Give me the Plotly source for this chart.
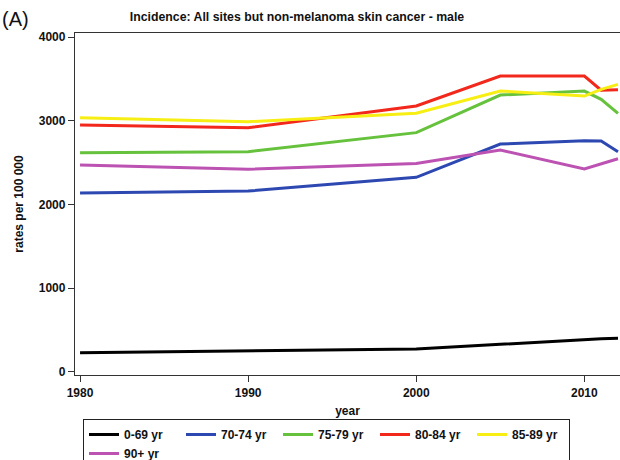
import plotly.graph_objects as go

years = [1980, 1990, 2000, 2005, 2010, 2011, 2012]
series_names = ["0-69 yr", "70-74 yr", "75-79 yr", "80-84 yr", "85-89 yr", "90+ yr"]
rates_0_69 = [231, 254, 275, 330, 390, 398, 402]
rates_70_74 = [2137, 2161, 2324, 2722, 2762, 2758, 2631]
rates_75_79 = [2619, 2631, 2858, 3307, 3355, 3256, 3089]
rates_80_84 = [2949, 2917, 3176, 3534, 3534, 3365, 3370]
rates_85_89 = [3037, 2989, 3089, 3355, 3295, 3375, 3435]
rates_90p = [2472, 2420, 2491, 2651, 2424, 2487, 2547]
colors = ["#000000", "#2E48B2", "#66C23C", "#F2281C", "#F7EE14", "#BC52B2"]

all_series = [rates_0_69, rates_70_74, rates_75_79, rates_80_84, rates_85_89, rates_90p]

FONT = "Liberation Sans, Arial, sans-serif"

fig = go.Figure()
for name, vals, col in zip(series_names, all_series, colors):
    fig.add_trace(go.Scatter(x=years, y=vals, mode="lines", name=name,
                             line=dict(color=col, width=3)))

fig.update_layout(
    width=620, height=460,
    margin=dict(l=75, r=0, t=33, b=85, autoexpand=False),
    paper_bgcolor="white", plot_bgcolor="white",
    font=dict(family=FONT, size=12, color="#111111"),
    title=dict(text="<b>Incidence: All sites but non-melanoma skin cancer - male</b>",
               x=297/620, xanchor="center", y=1 - 17/460, yanchor="middle",
               font=dict(family=FONT, size=12.3, color="#111111")),
    showlegend=True,
    legend=dict(orientation="h", x=0.0147, xanchor="left", y=-0.1287, yanchor="top",
                bordercolor="#222222", borderwidth=1, bgcolor="white",
                font=dict(family=FONT, size=12, color="#111111", weight="bold"),
                entrywidth=52, entrywidthmode="pixels", tracegroupgap=0),
)
fig.add_annotation(text="(A)", xref="paper", yref="paper", x=-75/545, y=1 + 14/342,
                   xanchor="left", yanchor="middle", showarrow=False,
                   font=dict(family=FONT, size=20, color="#111111"))

fig.update_xaxes(range=[1979.70, 2012.12], tickvals=[1980, 1990, 2000, 2010],
                 ticktext=["<b>1980</b>", "<b>1990</b>", "<b>2000</b>", "<b>2010</b>"],
                 showline=True, linecolor="#333333", linewidth=1.3, mirror=True,
                 ticks="outside", ticklen=6, tickcolor="#333333", showgrid=False,
                 zeroline=False, automargin=False,
                 title=dict(text="<b>year</b>", standoff=8,
                            font=dict(family=FONT, size=12, color="#111111")))
fig.update_yaxes(range=[-36, 4048], tickvals=[0, 1000, 2000, 3000, 4000],
                 ticktext=["<b>0</b>", "<b>1000</b>", "<b>2000</b>", "<b>3000</b>", "<b>4000</b>"],
                 showline=True, linecolor="#333333", linewidth=1.3, mirror=True,
                 ticks="outside", ticklen=6, tickcolor="#333333", showgrid=False,
                 zeroline=False, automargin=False,
                 title=dict(text="<b>rates per 100 000</b>", standoff=12,
                            font=dict(family=FONT, size=12, color="#111111")))

fig.write_html("out.html", config={"displayModeBar": False},
               post_script="document.body.style.margin='0';")
